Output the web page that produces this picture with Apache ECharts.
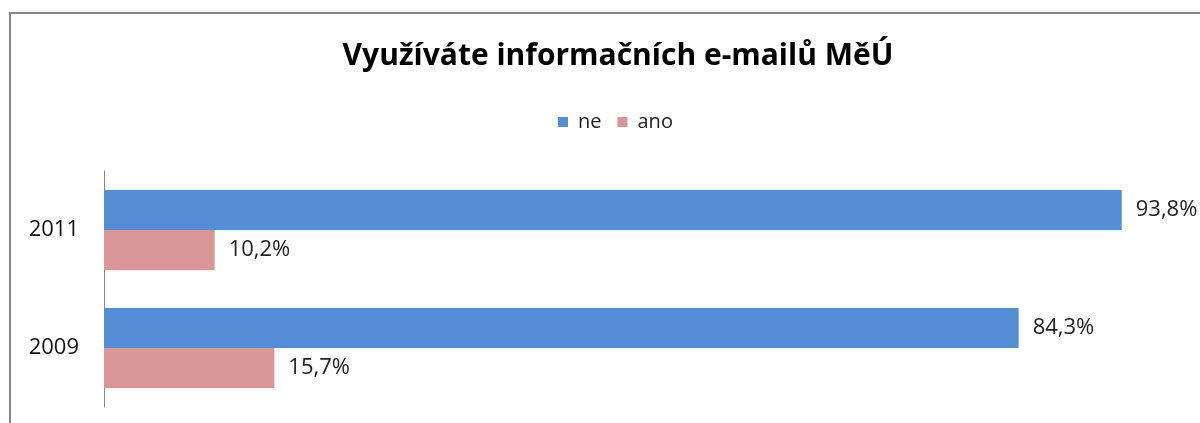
<!DOCTYPE html>
<html>

<head>
    <meta charset="utf-8">
</head>

<body style="height: 100%; margin: 0">
    <div id="container" style="width: 1200px; height: 423px"></div>
    <script type="text/javascript" src="https://cdn.jsdelivr.net/npm/echarts@6/dist/echarts.min.js"></script>
    <script>
        var years = ['2009', '2011']
        var ne = [84.3, 93.8]
        var ano = [15.7, 10.2]

        var dom = document.getElementById("container");
        var myChart = echarts.init(dom);

        var labelFmt = function (p) {
            return p.value.toFixed(1).replace('.', ',') + '%'
        }

        var option = {
            animation: false,
            title: {
                text: 'Využíváte informačních e-mailů MěÚ',
                left: 613,
                textAlign: 'center',
                top: 36,
                textStyle: {
                    fontFamily: 'Open Sans',
                    fontSize: 30,
                    fontWeight: 'bold',
                    color: '#000'
                }
            },
            legend: {
                top: 107,
                left: 553,
                itemWidth: 10,
                itemHeight: 10,
                itemGap: 16,
                icon: 'rect',
                data: ['ne', 'ano'],
                textStyle: {
                    fontFamily: 'Open Sans',
                    fontSize: 20,
                    color: '#222',
                    padding: [0, 0, 0, 5]
                }
            },
            graphic: [{
                type: 'polyline',
                shape: { points: [[10, 423], [10, 13], [1200, 13]] },
                style: { stroke: '#888', lineWidth: 2, fill: null }
            }],
            grid: {
                left: 104,
                top: 171,
                width: 1085,
                height: 236
            },
            xAxis: {
                type: 'value',
                min: 0,
                max: 100,
                show: false
            },
            yAxis: {
                type: 'category',
                data: years,
                axisLine: { lineStyle: { color: '#888' } },
                axisTick: { show: false },
                axisLabel: {
                    fontFamily: 'Open Sans',
                    fontSize: 22,
                    color: '#111',
                    margin: 25
                }
            },
            series: [{
                name: 'ne',
                type: 'bar',
                data: ne,
                barGap: 0,
                barCategoryGap: '32%',
                itemStyle: { color: '#558ED5' },
                label: {
                    show: true,
                    position: 'right',
                    distance: 14,
                    formatter: labelFmt,
                    fontFamily: 'Open Sans',
                    fontSize: 22,
                    color: '#222'
                }
            }, {
                name: 'ano',
                type: 'bar',
                data: ano,
                barGap: 0,
                barCategoryGap: '32%',
                itemStyle: { color: '#D99694' },
                label: {
                    show: true,
                    position: 'right',
                    distance: 14,
                    formatter: labelFmt,
                    fontFamily: 'Open Sans',
                    fontSize: 22,
                    color: '#222'
                }
            }]
        };
        myChart.setOption(option);
    </script>

</body>

</html>
